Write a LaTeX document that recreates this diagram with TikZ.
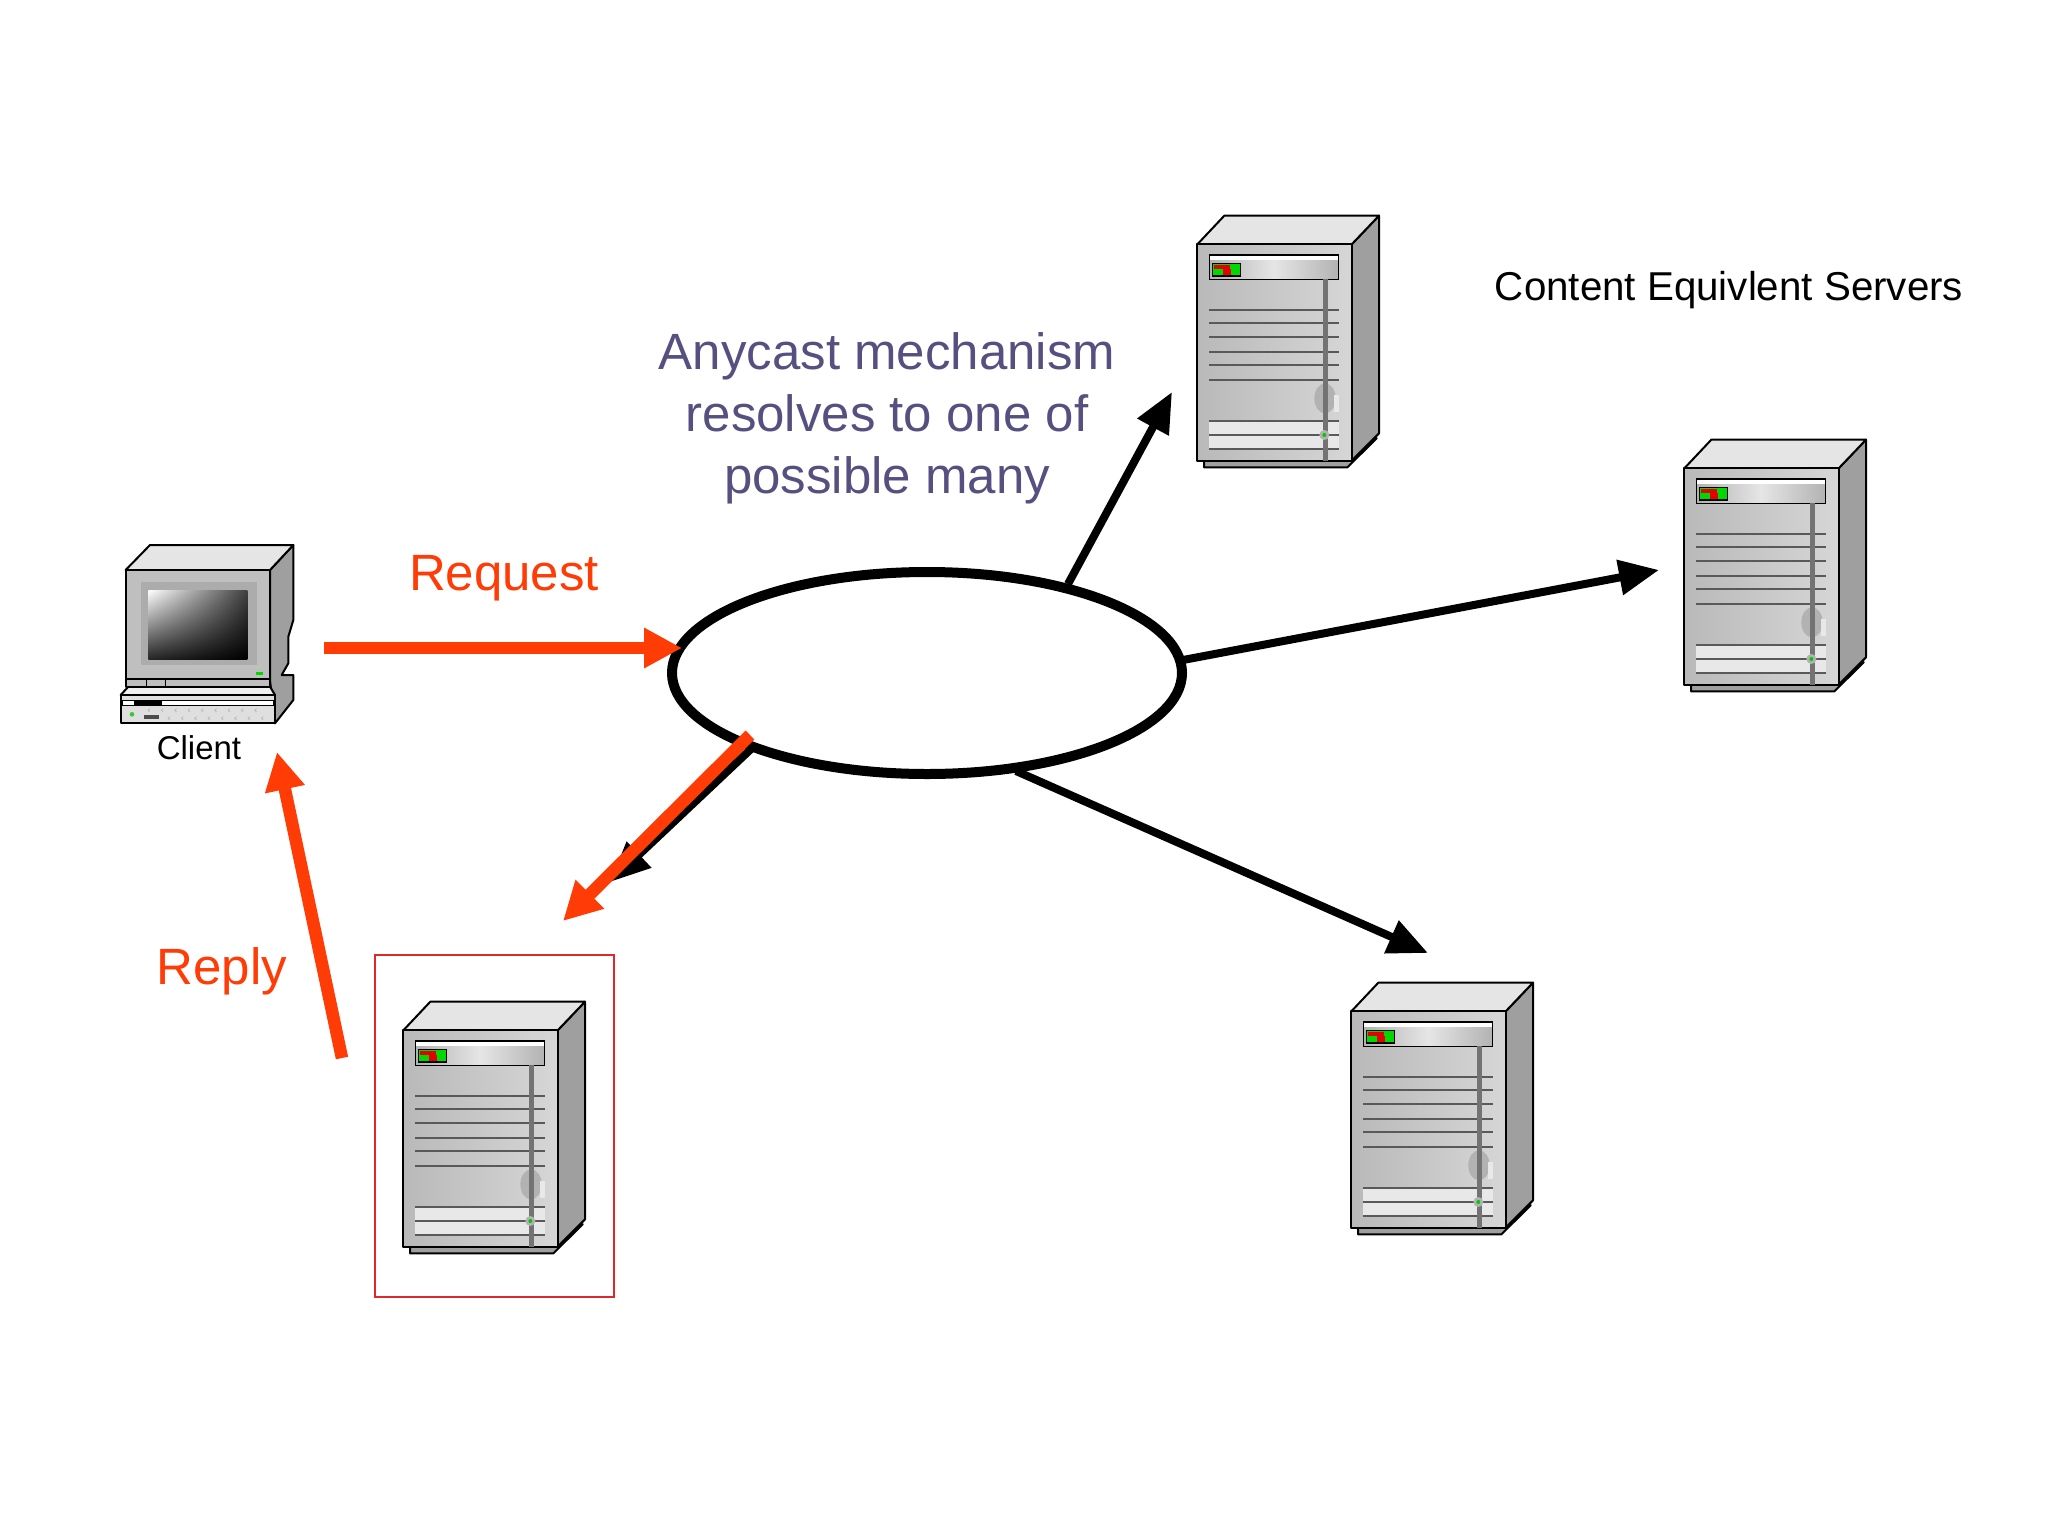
\documentclass[tikz,border=0pt]{standalone}
\usepackage{fontspec}
\setmainfont{Liberation Sans}
\usetikzlibrary{shapes.geometric,arrows.meta,shadings}
\definecolor{redarrow}{HTML}{FF3B06}
\definecolor{anytext}{HTML}{55507F}
\definecolor{boxred}{HTML}{E0282A}
\tikzset{
  outl/.style={draw=black,line width=2pt,line join=round},
  blackarrow/.style={line width=8pt,draw=black,-{Triangle[length=40pt,width=34pt]}},
  redarr/.style={line width=12.5pt,draw=redarrow,-{Triangle[length=38pt,width=38pt]}},
  bigtext/.style={font=\fontsize{51}{62}\selectfont,align=center,inner sep=0pt},
  server/.pic={
    \begin{scope}[scale=1/3]
      \fill[gray!75,outl] (72,782) -- (72,802) -- (502,802) -- (590,715) -- (515,700) -- cycle;
      \fill[HTML1,outl] (515,133) -- (597,47) -- (597,700) -- (515,782) -- cycle;
      \fill[HTML2,outl] (52,133) -- (133,47) -- (597,47) -- (515,133) -- cycle;
      \shade[left color=gray!55,right color=gray!32,outl] (52,133) rectangle (515,782);
      \fill[white] (88,165) rectangle (476,180);
      \shade[left color=gray!60,right color=gray!60,middle color=gray!20] (88,180) rectangle (476,238);
      \draw[black,line width=1.4pt] (88,165) rectangle (476,238);
      \fill[green!85!black,draw=black,line width=1.2pt] (97,190) rectangle (182,228);
      \fill[red!90!black] (103,195) rectangle (150,207);
      \fill[red!90!black] (128,207) rectangle (153,225);
      \fill[gray!18] (88,664) rectangle (476,747);
      \fill[gray!60] (435,595) ellipse [x radius=32,y radius=45];
      \fill[gray!18] (462,585) rectangle (476,635);
      \foreach \yy in {329,370,412,455,496,539,664,705,747}
        \draw[black!65,line width=1.9pt] (88,\yy) -- (476,\yy);
      \draw[black!55,line width=4.4pt] (436,238) -- (436,782);
      \fill[gray!60] (433,705) circle (15);
      \fill[green!80!black] (433,705) circle (6);
    \end{scope}
  },
  pcbox/.pic={
    \begin{scope}[scale=1/3]
      \fill[HTML1,outl] (510,120) -- (580,45) -- (580,270) -- (565,320) -- (565,400) -- (545,435) -- (580,435) -- (580,510) -- (525,580) -- (510,450) -- cycle;
      \fill[HTML2,outl] (77,120) -- (150,45) -- (580,45) -- (510,120) -- cycle;
      \fill[gray!12,outl] (62,495) -- (85,470) -- (510,470) -- (525,495) -- cycle;
      \fill[gray!50,outl] (77,120) rectangle (510,470);
      \fill[gray!65] (122,155) rectangle (470,405);
      \shade[shading=bilinear interpolation,upper left=white,upper right=black!75,lower left=black!85,lower right=black] (145,180) rectangle (442,387);
      \fill[green!85!black] (468,427) rectangle (490,436);
      \draw[black,line width=1.2pt] (77,447) -- (510,447) (140,447) -- (140,470) (197,447) -- (197,470);
      \fill[gray!25,outl] (62,495) rectangle (525,580);
      \fill[white,draw=black,line width=1pt] (67,512) rectangle (520,525);
      \fill[black] (103,512) rectangle (185,525);
      \fill[green!60!gray] (96,553) circle (7);
      \fill[black!70] (132,556) rectangle (178,568);
      \foreach \xx in {150,190,...,490} \draw[gray!60,line width=.6pt] (\xx,536) -- +(-6,5) -- +(0,10);
      \foreach \xx in {210,250,...,510} \draw[gray!60,line width=.6pt] (\xx,560) -- +(-6,5) -- +(0,10);
    \end{scope}
  }
}
\colorlet{HTML1}{gray!75}
\colorlet{HTML2}{gray!20}
\begin{document}
\begin{tikzpicture}[x=1pt,y=-1pt]
\useasboundingbox (0,0) rectangle (2048,1536);
% devices
\pic (srvA) at (1180,200) {server};
\pic (srvB) at (1667,424) {server};
\pic (srvC) at (1334,967) {server};
\pic (srvD) at (386,986) {server};
\pic (pc) at (100,530) {pcbox};
% selection box
\node[draw=boxred,line width=2pt,minimum width=239pt,minimum height=342pt,inner sep=0pt] (selbox) at (494.5,1126) {};
% anycast ellipse
\node[ellipse,draw=black,line width=10pt,fill=white,minimum width=510pt,minimum height=202pt,inner sep=0pt] (cloud) at (927,673) {};
% free ends
\coordinate (tipA) at (1172,392);
\coordinate (tipB) at (1659,570);
\coordinate (tipC) at (1428,953);
\coordinate (tipD) at (610,882);
\coordinate (startA) at (1068,584);
\coordinate (startB) at (1183,660);
\coordinate (startC) at (1016,771);
\coordinate (startD) at (752,748);
\coordinate (reqS) at (324,648);
\coordinate (reqE) at (682,648);
\coordinate (repS) at (750,735);
\coordinate (repE) at (563,921);
\coordinate (backS) at (342,1058);
\coordinate (backE) at (277,752);
\draw[blackarrow] (startA) -- (tipA);
\draw[blackarrow] (startB) -- (tipB);
\draw[blackarrow] (startC) -- (tipC);
\draw[blackarrow] (startD) -- (tipD);
\draw[redarr] (reqS) -- (reqE);
\draw[redarr] (repS) -- (repE);
\draw[redarr] (backS) -- (backE);
% labels
\node[bigtext,text=anytext] (anytxt) at (887,418) {Anycast mechanism\\resolves to one of\\possible many};
\node[bigtext,text=redarrow] (reqtxt) at (504,578) {Request};
\node[bigtext,text=redarrow] (reptxt) at (222,971) {Reply};
\node[font=\fontsize{40.3}{48}\selectfont,inner sep=0pt] (contxt) at (1729,290) {Content Equivlent Servers};
\node[font=\fontsize{33}{40}\selectfont,inner sep=0pt] (clitxt) at (199,748) {Client};
\end{tikzpicture}
\end{document}
